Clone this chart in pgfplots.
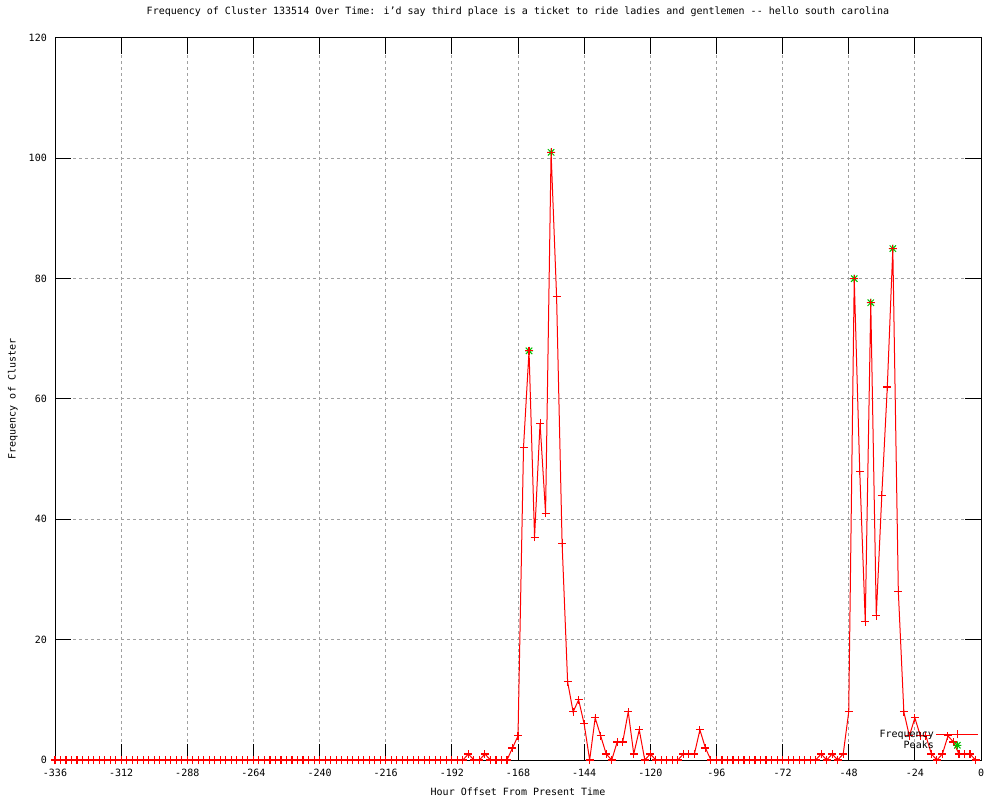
\documentclass[border=0pt]{standalone}
\usepackage{fontspec}
\setmainfont[Ligatures=ResetAll]{DejaVu Sans Mono}
\usepackage{pgfplots}
\pgfplotsset{compat=1.18}
\definecolor{gpred}{RGB}{255,0,0}
\definecolor{gpgreen}{RGB}{0,192,0}
\definecolor{gpgrid}{RGB}{160,160,160}
\pgfdeclareplotmark{gpstar}{%
 \pgfpathmoveto{\pgfqpoint{-\pgfplotmarksize}{0pt}}\pgfpathlineto{\pgfqpoint{\pgfplotmarksize}{0pt}}%
 \pgfpathmoveto{\pgfqpoint{0pt}{-\pgfplotmarksize}}\pgfpathlineto{\pgfqpoint{0pt}{\pgfplotmarksize}}%
 \pgfpathmoveto{\pgfqpoint{-0.8\pgfplotmarksize}{-0.8\pgfplotmarksize}}\pgfpathlineto{\pgfqpoint{0.8\pgfplotmarksize}{0.8\pgfplotmarksize}}%
 \pgfpathmoveto{\pgfqpoint{-0.8\pgfplotmarksize}{0.8\pgfplotmarksize}}\pgfpathlineto{\pgfqpoint{0.8\pgfplotmarksize}{-0.8\pgfplotmarksize}}%
 \pgfusepathqstroke}
\pgfdeclareplotmark{gpplus}{%
 \pgfpathmoveto{\pgfqpoint{-\pgfplotmarksize}{0pt}}\pgfpathlineto{\pgfqpoint{\pgfplotmarksize}{0pt}}%
 \pgfpathmoveto{\pgfqpoint{0pt}{-\pgfplotmarksize}}\pgfpathlineto{\pgfqpoint{0pt}{\pgfplotmarksize}}%
 \pgfusepathqstroke}
\begin{document}
\begin{tikzpicture}
\useasboundingbox (0,0) rectangle (1000pt,800pt);
\begin{axis}[
  at={(55pt,40pt)}, anchor=south west,
  scale only axis, width=926pt, height=722pt,
  xmin=-336, xmax=0, ymin=0, ymax=120,
  clip=false,
  font=\fontsize{10pt}{12pt}\selectfont,
  xtick={-336,-312,-288,-264,-240,-216,-192,-168,-144,-120,-96,-72,-48,-24,0},
  xticklabels={-336,-312,-288,-264,-240,-216,-192,-168,-144,-120,-96,-72,-48,-24,0},
  ytick={0,20,40,60,80,100,120},
  yticklabels={0,20,40,60,80,100,120},
  xticklabel style={anchor=north, inner sep=0pt, yshift=-9pt},
  yticklabel style={anchor=east, inner sep=0pt, xshift=-8pt},
  tick align=inside, major tick length=16pt,
  tick style={black, line width=1pt},
  axis line style={black, line width=1pt},
  grid=major,
  major grid style={gpgrid, line width=1pt, dash pattern=on 3pt off 3pt},
  title={Frequency of Cluster 133514 Over Time: i'd say third place is a ticket to ride ladies and gentlemen -{}- hello south carolina},
  title style={at={(axis description cs:0.5,1.0277)}, anchor=center, inner sep=0pt},
  xlabel={Hour Offset From Present Time},
  xlabel style={at={(axis description cs:0.5,-0.0443)}, anchor=center, inner sep=0pt},
  ylabel={Frequency of Cluster},
  ylabel style={at={(axis description cs:-0.0454,0.5)}, anchor=center, inner sep=0pt, rotate=0},
  legend plot pos=right,
  legend image code/.code={\draw[mark repeat=2,mark phase=2,#1] plot coordinates {(0pt,0pt)(21pt,0pt)(42pt,0pt)};},
  legend style={at={(axis description cs:1,0)}, anchor=south east, xshift=-2pt, yshift=8pt,
    draw=none, fill=none, inner sep=0pt, row sep=-2pt, cells={anchor=east},
    font=\fontsize{10pt}{12pt}\selectfont},
]
\addplot[forget plot, only marks, color=gpgreen, line width=1pt, mark=gpstar, mark size=4pt, mark options={draw=gpgreen, solid}]
 coordinates {(-164,68)(-156,101)(-46,80)(-40,76)(-32,85)};
\addplot[color=gpred, line width=1pt, mark=gpplus, mark size=4pt, mark options={draw=gpred, solid, line width=1.1pt}]
 coordinates {
(-336,0)(-334,0)(-332,0)(-330,0)(-328,0)(-326,0)(-324,0)(-322,0)(-320,0)(-318,0)
(-316,0)(-314,0)(-312,0)(-310,0)(-308,0)(-306,0)(-304,0)(-302,0)(-300,0)(-298,0)
(-296,0)(-294,0)(-292,0)(-290,0)(-288,0)(-286,0)(-284,0)(-282,0)(-280,0)(-278,0)
(-276,0)(-274,0)(-272,0)(-270,0)(-268,0)(-266,0)(-264,0)(-262,0)(-260,0)(-258,0)
(-256,0)(-254,0)(-252,0)(-250,0)(-248,0)(-246,0)(-244,0)(-242,0)(-240,0)(-238,0)
(-236,0)(-234,0)(-232,0)(-230,0)(-228,0)(-226,0)(-224,0)(-222,0)(-220,0)(-218,0)
(-216,0)(-214,0)(-212,0)(-210,0)(-208,0)(-206,0)(-204,0)(-202,0)(-200,0)(-198,0)
(-196,0)(-194,0)(-192,0)(-190,0)(-188,0)(-186,1)(-184,0)(-182,0)(-180,1)(-178,0)
(-176,0)(-174,0)(-172,0)(-170,2)(-168,4)(-166,52)(-164,68)(-162,37)(-160,56)(-158,41)
(-156,101)(-154,77)(-152,36)(-150,13)(-148,8)(-146,10)(-144,6)(-142,0)(-140,7)(-138,4)
(-136,1)(-134,0)(-132,3)(-130,3)(-128,8)(-126,1)(-124,5)(-122,0)(-120,1)(-118,0)
(-116,0)(-114,0)(-112,0)(-110,0)(-108,1)(-106,1)(-104,1)(-102,5)(-100,2)(-98,0)
(-96,0)(-94,0)(-92,0)(-90,0)(-88,0)(-86,0)(-84,0)(-82,0)(-80,0)(-78,0)
(-76,0)(-74,0)(-72,0)(-70,0)(-68,0)(-66,0)(-64,0)(-62,0)(-60,0)(-58,1)
(-56,0)(-54,1)(-52,0)(-50,1)(-48,8)(-46,80)(-44,48)(-42,23)(-40,76)(-38,24)
(-36,44)(-34,62)(-32,85)(-30,28)(-28,8)(-26,4)(-24,7)(-22,4)(-20,4)(-18,1)
(-16,0)(-14,1)(-12,4)(-10,3)(-8,1)(-6,1)(-4,1)(-2,0)
 };
\addlegendentry{Frequency}
\addlegendimage{only marks, color=gpgreen, line width=1pt, mark=gpstar, mark size=4pt, mark options={draw=gpgreen, solid}}
\addlegendentry{Peaks}
\end{axis}
\end{tikzpicture}
\end{document}
